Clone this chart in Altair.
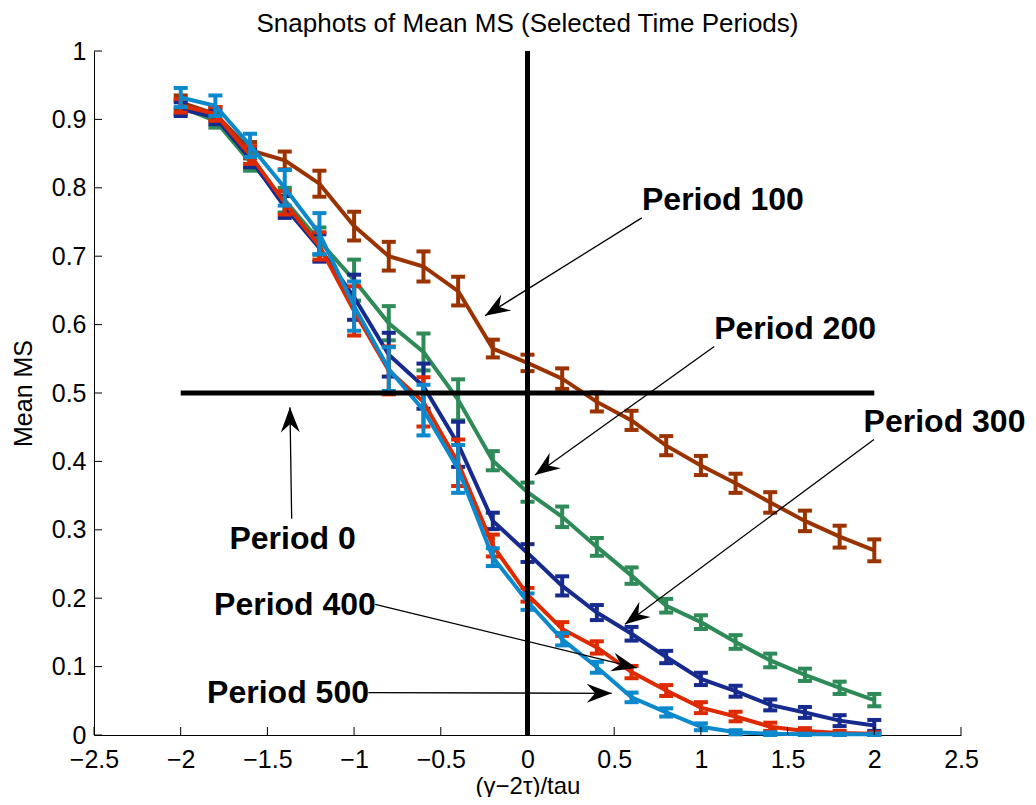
import math
import altair as alt
import pandas as pd

# ---------------- data ----------------
xs = [-2.0, -1.8, -1.6, -1.4, -1.2, -1.0, -0.8, -0.6, -0.4, -0.2, 0.0,
      0.2, 0.4, 0.6, 0.8, 1.0, 1.2, 1.4, 1.6, 1.8, 2.0]

series_names = ["Period 100", "Period 200", "Period 300", "Period 400", "Period 500"]
series_colors = ["#9A3300", "#2E8A57", "#172A8E", "#DE2A00", "#0C88CC"]

p100 = [0.925, 0.908, 0.855, 0.840, 0.806, 0.744, 0.700, 0.685, 0.649, 0.565, 0.544,
        0.521, 0.487, 0.460, 0.423, 0.394, 0.368, 0.340, 0.313, 0.290, 0.270]
p100_err = [0.010, 0.010, 0.012, 0.013, 0.019, 0.021, 0.021, 0.022, 0.021, 0.013, 0.012,
            0.015, 0.014, 0.014, 0.014, 0.014, 0.014, 0.015, 0.015, 0.016, 0.016]

p200 = [0.918, 0.898, 0.838, 0.782, 0.722, 0.665, 0.602, 0.560, 0.490, 0.401, 0.355,
        0.319, 0.275, 0.233, 0.189, 0.165, 0.136, 0.109, 0.088, 0.069, 0.051]
p200_err = [0.010, 0.010, 0.013, 0.018, 0.020, 0.030, 0.025, 0.027, 0.030, 0.014, 0.014,
            0.015, 0.013, 0.012, 0.010, 0.010, 0.010, 0.010, 0.009, 0.009, 0.009]

p300 = [0.915, 0.903, 0.843, 0.772, 0.712, 0.640, 0.556, 0.510, 0.425, 0.313, 0.266,
        0.218, 0.179, 0.148, 0.114, 0.082, 0.064, 0.044, 0.033, 0.021, 0.014]
p300_err = [0.010, 0.010, 0.013, 0.016, 0.020, 0.033, 0.032, 0.033, 0.033, 0.012, 0.013,
            0.014, 0.011, 0.010, 0.009, 0.009, 0.008, 0.008, 0.008, 0.008, 0.008]

p400 = [0.920, 0.908, 0.848, 0.778, 0.715, 0.620, 0.533, 0.487, 0.398, 0.277, 0.205,
        0.155, 0.128, 0.092, 0.065, 0.040, 0.027, 0.012, 0.006, 0.003, 0.002]
p400_err = [0.010, 0.010, 0.013, 0.017, 0.020, 0.036, 0.035, 0.036, 0.034, 0.016, 0.010,
            0.010, 0.009, 0.009, 0.008, 0.008, 0.007, 0.006, 0.004, 0.003, 0.002]

p500 = [0.932, 0.920, 0.862, 0.800, 0.733, 0.627, 0.535, 0.475, 0.389, 0.260, 0.195,
        0.140, 0.099, 0.055, 0.033, 0.012, 0.004, 0.002, 0.001, 0.001, 0.001]
p500_err = [0.014, 0.015, 0.017, 0.026, 0.030, 0.036, 0.032, 0.037, 0.035, 0.013, 0.012,
            0.009, 0.008, 0.007, 0.006, 0.005, 0.003, 0.002, 0.001, 0.001, 0.001]

series_values = [p100, p200, p300, p400, p500]
series_errors = [p100_err, p200_err, p300_err, p400_err, p500_err]

# reference lines
hline_x = [-2.0, 2.0]
hline_y = [0.5, 0.5]
vline_x = [0.0, 0.0]
vline_y = [0.0, 1.0]

# annotations
label_text = ["Period 100", "Period 200", "Period 300", "Period 0", "Period 400", "Period 500"]
label_x = [1.127, 1.543, 2.405, -1.355, -1.341, -1.381]
label_y = [0.782, 0.594, 0.457, 0.287, 0.190, 0.062]
arrow_x0 = [0.659, 1.077, 1.998, -1.360, -0.879, -0.918]
arrow_y0 = [0.756, 0.568, 0.432, 0.316, 0.191, 0.062]
arrow_x1 = [-0.245, 0.043, 0.562, -1.370, 0.630, 0.486]
arrow_y1 = [0.613, 0.380, 0.162, 0.479, 0.098, 0.061]

x_ticks = [-2.5, -2.0, -1.5, -1.0, -0.5, 0.0, 0.5, 1.0, 1.5, 2.0, 2.5]
y_ticks = [0.0, 0.1, 0.2, 0.3, 0.4, 0.5, 0.6, 0.7, 0.8, 0.9, 1.0]

# ---------------- layout / style ----------------
W, H = 867, 684
X_DOM = [-2.5, 2.5]
Y_DOM = [0.0, 1.0]
FONT = "Liberation Sans"
FS = 25

xsc = alt.Scale(domain=X_DOM, nice=False, zero=False)
ysc = alt.Scale(domain=Y_DOM, nice=False, zero=False)
xax = alt.Axis(values=x_ticks, format="~g", ticks=False, tickSize=0, grid=False,
               domainColor="black", domainWidth=1, labelFont=FONT, labelFontSize=FS,
               labelColor="black", labelPadding=12, labelFlush=False, labelOverlap=False,
               titleFont=FONT, titleFontSize=24, titleFontWeight="normal",
               titleColor="black", titlePadding=2)
yax = alt.Axis(values=y_ticks, format="~g", ticks=False, tickSize=0, grid=False,
               domainColor="black", domainWidth=1, labelFont=FONT, labelFontSize=FS,
               labelColor="black", labelPadding=8, labelFlush=False, labelOverlap=False,
               titleFont=FONT, titleFontSize=FS, titleFontWeight="normal",
               titleColor="black", titlePadding=15)
XT = "(γ−2τ)/tau"
YT = "Mean MS"


def X(f="x"):
    return alt.X(f"{f}:Q", scale=xsc, axis=xax, title=XT)


def Y(f="y"):
    return alt.Y(f"{f}:Q", scale=ysc, axis=yax, title=YT)


layers = []
for name, col, vals, errs in zip(series_names, series_colors, series_values, series_errors):
    df = pd.DataFrame({
        "x": xs,
        "y": vals,
        "lo": [v - e for v, e in zip(vals, errs)],
        "hi": [v + e for v, e in zip(vals, errs)],
        "series": name,
    })
    base = alt.Chart(df)
    layers.append(base.mark_line(color=col, strokeWidth=4, clip=False).encode(x=X(), y=Y()))
    layers.append(base.mark_rule(color=col, strokeWidth=4).encode(
        x=X(), y=Y("lo"), y2=alt.Y2("hi:Q")))
    layers.append(base.mark_tick(color=col, orient="horizontal", size=14, thickness=4,
                                 opacity=1).encode(x=X(), y=Y("lo")))
    layers.append(base.mark_tick(color=col, orient="horizontal", size=14, thickness=4,
                                 opacity=1).encode(x=X(), y=Y("hi")))

# black reference lines
hdf = pd.DataFrame({"x": [hline_x[0]], "x2": [hline_x[1]], "y": [hline_y[0]]})
vdf = pd.DataFrame({"x": [vline_x[0]], "y": [vline_y[0]], "y2": [vline_y[1]]})
layers.append(alt.Chart(hdf).mark_rule(color="black", strokeWidth=5).encode(
    x=X(), x2=alt.X2("x2:Q"), y=Y()))
layers.append(alt.Chart(vdf).mark_rule(color="black", strokeWidth=5).encode(
    x=X(), y=Y(), y2=alt.Y2("y2:Q")))

# arrows
sx = W / (X_DOM[1] - X_DOM[0])
sy = H / (Y_DOM[1] - Y_DOM[0])
angles = []
for a0, b0, a1, b1 in zip(arrow_x0, arrow_y0, arrow_x1, arrow_y1):
    dx = (a1 - a0) * sx
    dy = -(b1 - b0) * sy
    angles.append(math.degrees(math.atan2(dx, -dy)) % 360)

adf = pd.DataFrame({"x": arrow_x0, "y": arrow_y0, "x2": arrow_x1, "y2": arrow_y1})
layers.append(alt.Chart(adf).mark_rule(color="black", strokeWidth=1.3).encode(
    x=X(), y=Y(), x2=alt.X2("x2:Q"), y2=alt.Y2("y2:Q")))

hdf2 = pd.DataFrame({"x": arrow_x1, "y": arrow_y1, "angle": angles})
ARROW = "M0,0 L0.76,2 L0,1.33 L-0.76,2 Z"
layers.append(alt.Chart(hdf2).mark_point(shape=ARROW, filled=True, size=625, color="black",
                                         opacity=1, strokeWidth=0).encode(
    x=X(), y=Y(), angle=alt.Angle("angle:Q", scale=None)))

tdf = pd.DataFrame({"x": label_x, "y": label_y, "label": label_text})
layers.append(alt.Chart(tdf).mark_text(font=FONT, fontSize=32, fontWeight="bold",
                                       color="black", align="center",
                                       baseline="middle").encode(
    x=X(), y=Y(), text="label:N"))

# inward ticks (MATLAB style)
xtdf = pd.DataFrame({"x": x_ticks})
ytdf = pd.DataFrame({"y": y_ticks})
layers.append(alt.Chart(xtdf).mark_rule(color="black", strokeWidth=1).encode(
    x=X(), y=alt.value(H), y2=alt.value(H - 8)))
layers.append(alt.Chart(ytdf).mark_rule(color="black", strokeWidth=1).encode(
    y=Y(), x=alt.value(0), x2=alt.value(8)))

chart = alt.layer(*layers).properties(
    width=W,
    height=H,
    title=alt.TitleParams("Snaphots of Mean MS (Selected Time Periods)", font=FONT,
                          fontSize=26, fontWeight="normal", color="black",
                          anchor="middle", frame="group", offset=2),
    padding={"left": 86, "top": 43, "right": 66, "bottom": 62},
    autosize=alt.AutoSizeParams(type="none"),
).configure_view(stroke="transparent")

chart.save("out.html", embed_options={"renderer": "svg", "actions": False})
